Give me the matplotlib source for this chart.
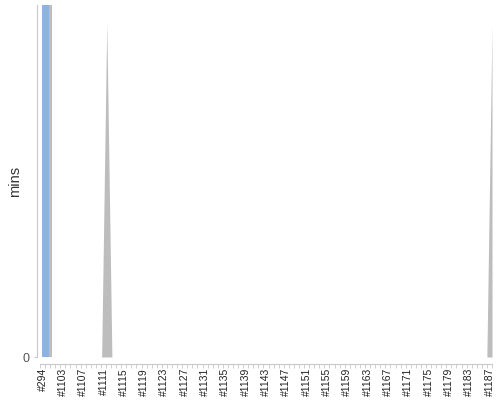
import matplotlib
matplotlib.use("Agg")
import matplotlib.pyplot as plt
import numpy as np

# ==========================================
# data
# ==========================================

builds = ["#294"] + ["#" + str(n) for n in range(1100, 1188)]

# column series (only the first build has a value, it runs off the top)
bar_values = {"#294": 130}

# area series peaks
area_values = {"#1112": 95, "#1187": 94}

y_label = "mins"
y_max = 100

# ==========================================
# style
# ==========================================

BLUE = "#8db3e2"
GREY = "#bdbdbd"
AXIS = "#c8c8c8"
TEXT = "#333333"

plt.rcParams["font.family"] = ["Liberation Sans", "DejaVu Sans"]

n = len(builds)
idx = np.arange(n)
bars = np.array([bar_values.get(b, 0) for b in builds], dtype=float)
area = np.array([area_values.get(b, 0) for b in builds], dtype=float)

fig = plt.figure(figsize=(5, 4), dpi=100)
ax = fig.add_axes([0.08, 0.1075, 0.904, 0.88])

# bar with its grey side
ax.bar(idx - 0.17, bars, width=1.97, align="edge", color=GREY, zorder=2)
ax.bar(idx - 0.17, bars, width=1.44, align="edge", color=BLUE, zorder=3)

ax.set_xlim(-0.5, n - 0.5)
ax.set_ylim(0, y_max)

# area series is laid out edge to edge
ax2 = ax.twiny()
ax2.set_xlim(0, n - 1)
ax2.set_ylim(0, y_max)
ax2.fill_between(idx, 0, area, color=GREY, linewidth=0, zorder=1)
ax2.set_xticks([])
for s in ax2.spines.values():
    s.set_visible(False)

ax.set_zorder(ax2.get_zorder() + 1)
ax.patch.set_visible(False)

# axes
for s in ["top", "right"]:
    ax.spines[s].set_visible(False)
ax.spines["left"].set_position(("outward", 2))
ax.spines["bottom"].set_position(("outward", 5))
ax.spines["left"].set_color(AXIS)
ax.spines["bottom"].set_color(AXIS)

ax.set_yticks([0])
ax.set_yticklabels(["0"], fontsize=9, color="#555555")
ax.tick_params(axis="y", length=2, color=AXIS)

ax.set_xticks(idx[::4])
ax.set_xticklabels(builds[::4], rotation=90, fontsize=7.5, color="#222222")
ax.set_xticks(np.arange(n + 1) - 0.5, minor=True)
ax.tick_params(axis="x", which="major", length=0, pad=3)
ax.tick_params(axis="x", which="minor", length=3, color=AXIS)

ax.set_ylabel(y_label, fontsize=10.5, color=TEXT)
ax.yaxis.set_label_coords(-0.040, 0.5)

fig.savefig("out.png", dpi=100)
